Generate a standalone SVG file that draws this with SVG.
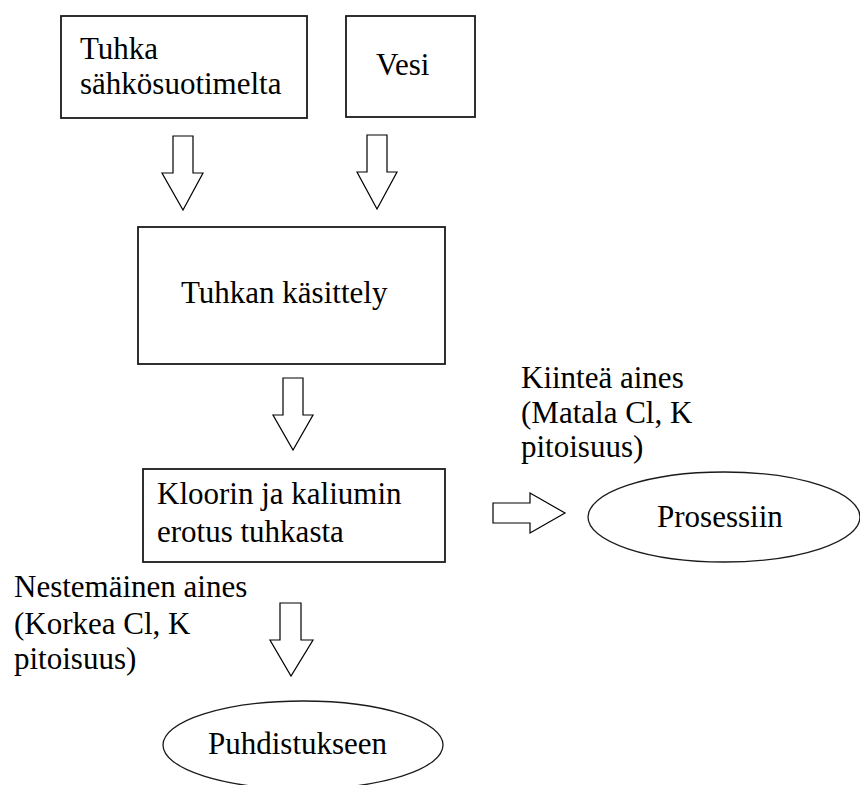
<svg xmlns="http://www.w3.org/2000/svg" width="860" height="785" viewBox="0 0 860 785">
<style>
.box{fill:#fff;stroke:#1a1a1a;stroke-width:1.8}
.ell{fill:#fff;stroke:#1a1a1a;stroke-width:1.3}
.arr{fill:#fff;stroke:#000;stroke-width:1.2;stroke-linejoin:miter}
text{font-family:"Liberation Serif","Times New Roman",serif;font-size:31px;fill:#000}
</style>
<rect width="860" height="785" fill="#fff"/>
<g id="connectors">
<polygon class="arr" points="173,136 193,136 193,173 203,173 183,210 162,173 173,173"/>
<polygon class="arr" points="367,135 387,135 387,172 397,172 377,209 357,172 367,172"/>
<polygon class="arr" points="283,378 303,378 303,415 313,415 293,450 273,415 283,415"/>
<polygon class="arr" points="280,603 301,603 301,640 313,640 291,676 270,640 280,640"/>
<polygon class="arr" points="493,503 530,503 530,493 565,513 530,533 530,523 493,523"/>
</g>
<g id="n1">
<rect class="box" x="61" y="16" width="246" height="102"/>
<text x="80" y="59">Tuhka</text>
<text x="80" y="94">sähkösuotimelta</text>
</g>
<g id="n2">
<rect class="box" x="346" y="16" width="129" height="101"/>
<text x="376" y="75">Vesi</text>
</g>
<g id="n3">
<rect class="box" x="138" y="227" width="307" height="137"/>
<text x="181" y="303">Tuhkan käsittely</text>
</g>
<g id="n4">
<rect class="box" x="143" y="469" width="302" height="93"/>
<text x="157" y="504">Kloorin ja kaliumin</text>
<text x="157" y="542">erotus tuhkasta</text>
</g>
<g id="l1">
<text x="521" y="388">Kiinteä aines</text>
<text x="521" y="423">(Matala Cl, K</text>
<text x="521" y="457">pitoisuus)</text>
</g>
<g id="l2">
<text x="14" y="597">Nestemäinen aines</text>
<text x="14" y="634">(Korkea Cl, K</text>
<text x="14" y="669">pitoisuus)</text>
</g>
<g id="n5">
<ellipse class="ell" cx="724" cy="517" rx="136" ry="45"/>
<text x="657" y="527">Prosessiin</text>
</g>
<g id="n6">
<ellipse class="ell" cx="303" cy="745" rx="140" ry="44"/>
<text x="208" y="754">Puhdistukseen</text>
</g>
</svg>
